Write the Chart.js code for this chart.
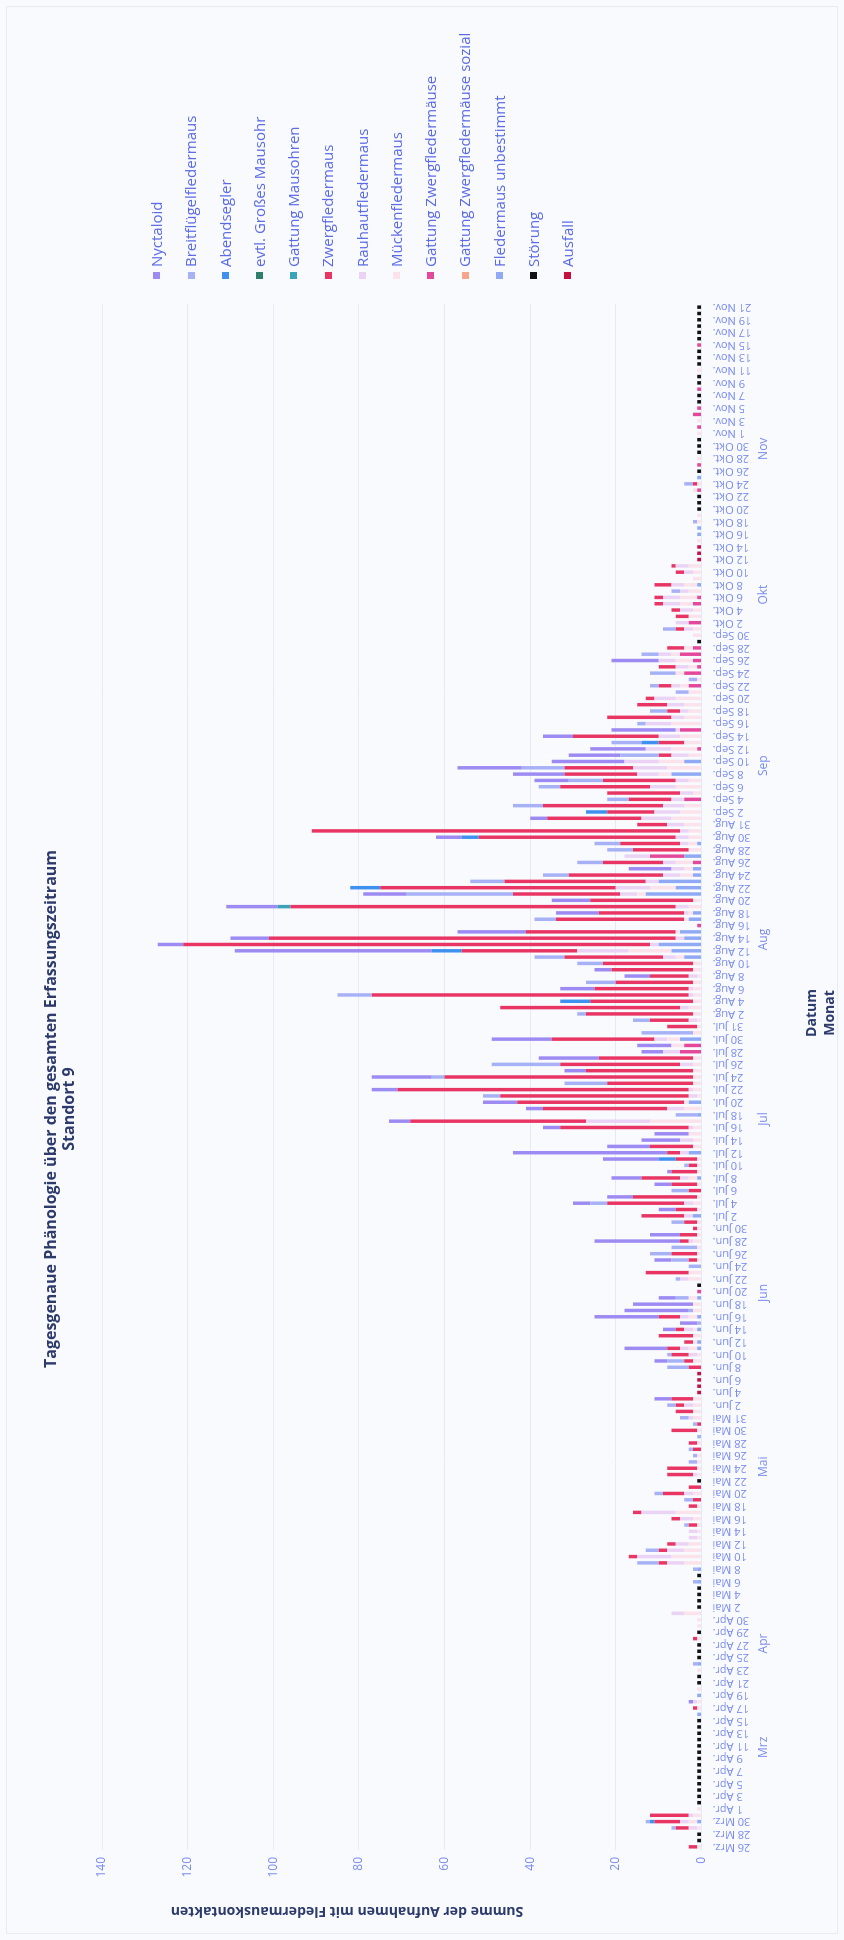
<!DOCTYPE html>
<html lang="de">
<head>
<meta charset="UTF-8">
<title>Tagesgenaue Phänologie – Standort 9</title>
<script src="https://cdn.jsdelivr.net/npm/chart.js"></script>
<style>
  html, body { margin: 0; padding: 0; background: #f8fafe; }
  body { width: 844px; height: 1940px; overflow: hidden; position: relative; font-family: "Open Sans", sans-serif; }
  /* die Grafik wird quer aufgebaut und dann um 90 Grad nach links gedreht */
  #figur { position: absolute; left: 0; top: 0; width: 1940px; height: 844px;
           transform-origin: 0 0; transform: translateY(1940px) rotate(-90deg); }
  #rahmen { position: absolute; left: 6px; top: 6px; right: 6px; bottom: 6px; border: 1px solid #e6ebf6; }
  #diagramm { position: absolute; left: 0; top: 0; }
  .titel { position: absolute; left: 431px; width: 800px; top: 41px; text-align: center;
           font-weight: 700; font-size: 16px; line-height: 18px; color: #2c3a6c; }
  .achsentitel { position: absolute; font-weight: 700; font-size: 14px; color: #2c3a6c;
                 text-align: center; white-space: nowrap; }
  #ytitel { left: -172px; top: 337px; width: 400px; height: 20px; line-height: 20px; transform: rotate(-90deg); }
  #xtitel { left: 827px; top: 802px; width: 200px; line-height: 18px; }
  #legende { position: absolute; left: 1661px; top: 0; }
  .eintrag { position: absolute; left: 0; height: 20px; line-height: 20px; white-space: nowrap;
             font-size: 15px; color: #5b6be6; }
  .eintrag span { display: inline-block; width: 7px; height: 7px; margin-right: 5px; vertical-align: middle; position: relative; top: -1px; }
</style>
</head>
<body>
<div id="figur">
  <div id="rahmen"></div>
  <canvas id="diagramm" width="1940" height="844"></canvas>
  <div class="titel">Tagesgenaue Phänologie über den gesamten Erfassungszeitraum<br>Standort 9</div>
  <div class="achsentitel" id="ytitel">Summe der Aufnahmen mit Fledermauskontakten</div>
  <div class="achsentitel" id="xtitel">Datum<br>Monat</div>
  <div id="legende"></div>
</div>

<script>
  // Monate und die beschrifteten Tage je Monat (dazwischen liegt jeweils ein unbeschrifteter Tag)
  const monate = ['Mrz', 'Apr', 'Mai', 'Jun', 'Jul', 'Aug', 'Sep', 'Okt', 'Nov'];
  const kuerzel = ['Mrz.', 'Apr.', 'Mai', 'Jun.', 'Jul.', 'Aug.', 'Sep.', 'Okt.', 'Nov.'];
  const tageMitEtikett = [
    [26, 28, 30],
    [1, 3, 5, 7, 9, 11, 13, 15, 17, 19, 21, 23, 25, 27, 29, 30],
    [2, 4, 6, 8, 10, 12, 14, 16, 18, 20, 22, 24, 26, 28, 30, 31],
    [2, 4, 6, 8, 10, 12, 14, 16, 18, 20, 22, 24, 26, 28, 30],
    [2, 4, 6, 8, 10, 12, 14, 16, 18, 20, 22, 24, 26, 28, 30, 31],
    [2, 4, 6, 8, 10, 12, 14, 16, 18, 20, 22, 24, 26, 28, 30, 31],
    [2, 4, 6, 8, 10, 12, 14, 16, 18, 20, 22, 24, 26, 28, 30],
    [2, 4, 6, 8, 10, 12, 14, 16, 18, 20, 22, 24, 26, 28, 30],
    [1, 3, 5, 7, 9, 11, 13, 15, 17, 19, 21]
  ];

  const artNamen = ['Nyctaloid', 'Breitflügelfledermaus', 'Abendsegler', 'evtl. Großes Mausohr',
    'Gattung Mausohren', 'Zwergfledermaus', 'Rauhautfledermaus', 'Mückenfledermaus',
    'Gattung Zwergfledermäuse', 'Gattung Zwergfledermäuse sozial', 'Fledermaus unbestimmt',
    'Störung', 'Ausfall'];
  const artFarben = ['#9d8af2', '#a7b1f6', '#3f91f0', '#2f7f6f', '#3ba3b8', '#e83564', '#ead3f4',
    '#fce2ea', '#e4489a', '#f7a58a', '#8fa9f4', '#111111', '#c8103e'];

  // Aufnahmen pro Tag, je Zeile 20 Tage: ab 26 Mrz, 15 Apr, 4 Mai, 24 Mai, 12 Jun, 2 Jul,
  // 22 Jul, 10 Aug, 30 Aug, 18 Sep, 8 Okt, 28 Okt, 17 Nov
  const nyctaloid = [
    0,0,0,0,0,0,0,0,0,0, 0,0,0,0,0,0,0,0,0,0,
    0,0,0,1,0,0,0,0,0,0, 0,0,0,0,0,0,0,0,0,0,
    0,0,0,0,0,0,0,0,0,0, 0,0,0,0,0,0,0,0,0,0,
    0,0,0,0,0,0,0,0,0,0, 0,4,0,0,0,0,0,3,0,10,
    0,0,3,4,15,15,14,4,0,0, 0,0,0,4,0,0,20,7,0,0,
    0,4,4,6,0,4,7,1,0,13, 36,10,9,8,4,5,0,4,8,0,
    6,0,14,5,0,14,5,8,14,0, 0,0,0,0,0,0,8,0,6,4,
    0,0,46,6,9,16,0,0,10,12, 9,10,0,0,0,10,0,0,0,0,
    6,0,0,4,0,0,0,0,0,8, 12,15,17,12,13,0,7,15,0,0,
    0,0,0,0,0,0,0,0,11,0, 0,0,0,0,0,0,0,0,0,0,
    0,0,0,0,0,0,0,0,0,0, 0,0,0,0,0,0,0,0,0,0,
    0,0,0,0,0,0,0,0,0,0, 0,0,0,0,0,0,0,0,0,0,
    0,0,0,0,0
  ];
  const breitfluegel = [
    0,0,0,1,1,0,0,0,0,0, 0,0,0,0,0,0,0,0,0,0,
    0,0,0,0,0,0,0,0,0,1, 0,0,0,0,0,0,0,0,0,0,
    0,0,1,0,1,5,0,3,0,0, 0,1,0,0,0,2,2,0,0,0,
    0,2,1,1,0,1,0,1,2,0, 2,0,0,0,0,0,5,4,1,0,
    0,0,0,1,0,1,0,3,0,0, 1,0,3,4,5,6,0,0,0,3,
    0,0,4,0,4,0,0,0,1,0, 0,0,0,0,0,0,5,0,0,4,
    0,10,3,0,16,0,0,0,0,12, 0,4,2,0,0,8,0,7,0,0,
    6,7,0,0,0,0,0,5,0,0, 0,25,0,8,6,0,6,0,6,6,
    0,0,0,0,0,7,5,0,5,8, 0,10,0,9,0,7,0,0,2,0,
    4,0,0,3,2,2,6,0,0,4, 0,0,0,3,0,0,0,0,0,2,
    0,0,0,0,0,0,0,0,0,0, 1,0,0,0,0,0,2,0,0,0,
    0,0,0,0,0,0,0,0,0,0, 0,0,0,0,0,0,0,0,0,0,
    0,0,0,0,0
  ];
  const abendsegler = [
    0,0,0,0,1,0,0,0,0,0, 0,0,0,0,0,0,0,0,0,0,
    0,0,0,0,0,0,0,0,0,0, 0,0,0,0,0,0,0,0,0,0,
    0,0,0,0,0,0,0,0,0,0, 0,0,0,0,0,0,0,0,0,0,
    0,0,0,0,0,0,0,0,0,0, 0,0,0,0,0,0,0,0,0,0,
    0,0,0,0,0,0,0,0,0,0, 0,0,0,0,0,0,0,0,0,0,
    0,0,0,0,0,0,0,0,0,4, 0,0,0,0,0,0,0,0,0,0,
    0,0,0,0,0,0,0,0,0,0, 0,0,0,0,7,0,0,0,0,0,
    0,0,7,0,0,0,0,0,0,0, 0,0,7,0,0,0,0,0,0,0,
    4,0,0,0,5,0,0,0,0,0, 0,0,0,0,0,4,0,0,0,0,
    0,0,0,0,0,0,0,0,0,0, 0,0,0,0,0,0,0,0,0,0,
    0,0,0,0,0,0,0,0,0,0, 0,0,0,0,0,0,0,0,0,0,
    0,0,0,0,0,0,0,0,0,0, 0,0,0,0,0,0,0,0,0,0,
    0,0,0,0,0
  ];
  const grossesMausohr = [
    0,0,0,0,0,0,0,0,0,0, 0,0,0,0,0,0,0,0,0,0,
    0,0,0,0,0,0,0,0,0,0, 0,0,0,0,0,0,0,0,0,0,
    0,0,0,0,0,0,0,0,0,0, 0,0,0,0,0,0,0,0,0,0,
    0,0,0,0,0,0,0,0,0,0, 0,0,0,0,0,0,0,0,0,0,
    0,0,0,0,0,0,0,0,0,0, 0,0,0,0,0,0,0,0,0,0,
    0,0,0,0,0,0,0,0,0,0, 0,0,0,0,0,0,0,0,0,0,
    0,0,0,0,0,0,0,0,0,0, 0,0,0,0,0,0,0,0,0,0,
    0,0,0,0,0,0,0,0,0,0, 0,0,0,0,0,0,0,0,0,0,
    0,0,0,0,0,0,0,0,0,0, 0,0,0,0,0,0,0,0,0,0,
    0,0,0,0,0,0,0,0,0,0, 0,0,0,0,0,0,0,0,0,0,
    0,0,0,0,0,0,0,0,0,0, 0,0,0,0,0,0,0,0,0,0,
    0,0,0,0,0,0,0,0,0,0, 0,0,0,0,0,0,0,0,0,0,
    0,0,0,0,0
  ];
  const mausohren = [
    0,0,0,0,0,0,0,0,0,0, 0,0,0,0,0,0,0,0,0,0,
    0,0,0,0,0,0,0,0,0,0, 0,0,0,0,0,0,0,0,0,0,
    0,0,0,0,0,0,0,0,0,0, 0,0,0,0,0,0,0,0,0,0,
    0,0,0,0,0,0,0,0,0,0, 0,0,0,0,0,0,0,0,0,0,
    0,0,0,0,0,0,0,0,0,0, 0,0,0,0,0,0,0,0,0,0,
    0,0,0,0,0,0,0,0,0,0, 0,0,0,0,0,0,0,0,0,0,
    0,0,0,0,0,0,0,0,0,0, 0,0,0,0,0,0,0,0,0,0,
    0,0,0,0,0,0,0,0,0,3, 0,0,0,0,0,0,0,0,0,0,
    0,0,0,0,0,0,0,0,0,0, 0,0,0,0,0,0,0,0,0,0,
    0,0,0,0,0,0,0,0,0,0, 0,0,0,0,0,0,0,0,0,0,
    0,0,0,0,0,0,0,0,0,0, 0,0,0,0,0,0,0,0,0,0,
    0,0,0,0,0,0,0,0,0,0, 0,0,0,0,0,0,0,0,0,0,
    0,0,0,0,0
  ];
  const zwerg = [
    2,0,0,3,6,9,0,0,0,0, 0,0,0,0,0,0,0,0,0,0,
    0,0,1,0,0,0,0,0,0,0, 0,0,0,1,0,0,0,0,0,0,
    0,0,0,0,0,2,2,2,2,0, 0,2,2,2,2,2,5,3,0,6,
    7,0,0,2,2,0,6,1,0,4, 2,5,0,0,0,0,3,2,4,3,
    2,8,2,0,5,0,0,0,0,0, 0,10,0,2,6,0,2,4,1,3,
    10,5,18,15,3,6,9,6,2,5, 3,10,0,0,30,41,0,29,39,44,
    68,20,58,25,28,22,0,0,24,0, 7,9,25,42,24,74,22,18,9,19,
    21,23,27,109,95,35,0,30,20,90, 24,25,55,33,22,0,14,0,13,14,
    46,86,7,22,11,28,10,17,21,17, 17,16,0,3,0,6,20,0,0,15,
    3,7,2,0,3,0,0,4,0,0, 4,0,0,2,0,3,2,2,2,0,
    4,0,2,1,0,0,0,0,0,0, 0,0,0,0,0,0,1,0,0,0,
    0,0,0,0,0,0,0,0,0,0, 0,0,0,0,0,0,0,0,0,0,
    0,0,0,0,0
  ];
  const rauhaut = [
    0,0,0,2,2,1,0,0,0,0, 0,0,0,0,0,0,0,0,0,0,
    0,0,0,1,0,0,0,0,0,0, 0,0,0,0,0,0,0,3,0,0,
    0,0,0,0,0,4,8,4,3,2, 2,0,3,8,0,0,2,0,0,1,
    0,0,0,0,0,0,0,0,1,0, 2,0,0,0,0,0,0,0,2,2,
    0,0,2,0,2,0,0,0,0,0, 2,0,0,0,0,0,1,0,0,0,
    2,0,2,0,0,0,2,0,0,0, 2,0,3,0,1,15,0,4,0,2,
    1,0,0,0,3,0,4,0,3,0, 0,2,0,2,0,1,1,0,2,0,
    0,3,12,2,2,0,0,0,1,3, 0,4,8,3,4,3,3,6,0,2,
    3,2,4,7,6,5,3,3,6,3, 5,8,8,4,6,0,5,1,6,3,
    2,4,5,0,2,0,0,3,4,3, 0,0,0,2,3,0,3,4,4,2,
    3,0,2,3,0,0,0,0,0,0, 0,0,0,0,0,0,0,0,0,0,
    0,0,0,0,0,0,0,0,0,0, 0,0,0,0,0,0,0,0,0,0,
    0,0,0,0,0
  ];
  const muecken = [
    1,0,0,1,2,2,1,0,0,0, 0,0,0,0,0,0,0,0,0,0,
    0,0,1,1,0,1,0,0,1,0, 0,0,0,1,0,1,1,4,0,0,
    0,0,0,0,0,4,7,4,3,1, 1,1,2,6,1,0,2,0,0,1,
    1,1,1,0,1,0,1,0,2,2, 2,2,0,0,0,0,0,2,1,2,
    1,2,1,0,2,2,2,2,0,0, 3,3,0,1,1,1,2,1,1,1,
    0,1,2,1,0,1,2,1,1,1, 0,2,2,3,2,12,0,4,1,1,
    2,2,2,2,2,2,0,3,3,2, 1,1,2,3,2,2,2,2,1,2,
    2,2,10,0,0,1,0,1,1,3, 2,2,6,0,3,2,4,0,3,2,
    3,3,4,7,5,4,0,2,6,3, 3,8,6,3,6,4,5,0,7,4,
    3,4,6,3,2,1,2,2,4,2, 2,0,2,2,0,3,2,3,4,3,
    3,2,2,3,0,0,0,1,0,0, 1,1,0,0,0,1,1,0,0,0,
    1,0,0,0,1,0,1,0,0,0, 0,0,0,0,1,0,0,0,0,0,
    0,0,0,0,0
  ];
  const gattungZwerg = [
    0,0,0,0,0,0,0,0,0,0, 0,0,0,0,0,0,0,0,0,0,
    0,0,0,0,0,0,0,0,0,0, 0,0,0,0,0,0,0,0,0,0,
    0,0,0,0,0,0,0,0,0,0, 0,0,0,0,0,0,0,0,0,0,
    0,0,0,0,0,0,0,0,0,0, 0,0,0,0,0,0,0,0,0,0,
    0,0,0,0,0,0,0,0,1,0, 0,0,0,0,0,0,0,0,0,0,
    0,0,0,0,0,0,0,0,0,0, 0,0,0,0,0,0,0,0,0,0,
    0,0,0,0,0,0,5,4,0,0, 0,0,0,0,0,0,0,0,0,0,
    0,0,0,0,0,0,1,0,0,0, 0,0,0,0,0,0,2,8,0,0,
    0,0,0,0,0,0,4,0,0,0, 0,0,0,0,1,0,0,5,0,0,
    0,0,0,0,3,0,4,1,2,5, 2,0,0,0,3,0,0,2,1,0,
    0,0,0,0,0,0,0,0,0,0, 0,0,0,0,0,1,0,0,0,1,
    0,0,0,0,0,1,0,2,1,0, 0,1,0,0,0,0,0,0,1,0,
    0,0,0,0,0
  ];
  const gattungZwergSozial = [
    0,0,0,0,0,0,0,0,0,0, 0,0,0,0,0,0,0,0,0,0,
    0,0,0,0,0,0,0,0,0,0, 0,0,0,0,0,0,0,0,0,0,
    0,0,0,0,0,0,0,0,0,0, 0,0,0,0,0,0,0,0,0,0,
    0,0,0,0,0,0,0,0,0,0, 0,0,0,0,0,0,0,0,0,0,
    0,0,0,0,0,0,0,0,0,0, 0,0,0,0,0,0,0,0,0,0,
    0,0,0,0,0,0,0,0,0,0, 0,0,0,0,0,0,0,0,0,0,
    0,0,0,0,0,0,0,0,0,0, 0,0,0,0,0,0,0,0,0,0,
    0,0,0,0,0,0,0,0,0,0, 0,0,0,0,0,0,0,0,0,0,
    0,0,0,0,0,0,0,0,0,0, 0,0,0,0,0,0,0,0,0,0,
    0,0,0,0,0,0,0,0,0,0, 0,0,0,0,0,0,0,0,0,0,
    0,0,0,0,0,0,0,0,0,0, 0,0,0,0,0,0,0,0,0,0,
    0,0,0,0,0,0,0,0,0,0, 0,0,0,0,0,0,0,0,0,0,
    0,0,0,0,0
  ];
  const unbestimmt = [
    0,0,0,0,1,0,0,0,0,0, 0,0,0,0,0,0,0,0,0,0,
    0,1,0,0,1,0,0,0,0,1, 0,0,0,0,0,0,0,0,0,0,
    0,0,1,0,1,0,0,0,0,0, 0,0,0,0,0,0,0,0,0,0,
    0,0,0,0,0,0,0,0,0,0, 0,0,0,0,0,0,0,0,0,1,
    1,0,1,0,1,0,0,1,0,0, 0,0,0,0,0,0,0,0,0,0,
    2,0,0,0,0,0,1,0,0,0, 3,0,0,0,0,0,1,0,3,0,
    0,0,0,0,0,0,0,0,5,0, 0,0,0,0,0,0,0,0,0,0,
    0,4,7,10,4,5,0,3,2,0, 0,13,6,10,2,2,0,4,0,1,
    0,0,0,0,0,0,0,0,0,0, 7,0,4,0,0,0,0,0,0,0,
    0,0,0,0,0,0,0,0,0,0, 0,0,0,0,0,0,0,0,0,0,
    1,0,0,0,0,0,0,0,1,1, 0,0,0,0,0,0,0,1,0,0,
    0,0,0,0,0,0,0,0,0,0, 0,0,0,0,0,0,0,0,0,0,
    0,0,0,0,0
  ];
  const stoerung = [
    0,1,1,0,0,0,0,1,1,1, 1,1,1,1,1,1,1,1,1,1,
    1,0,0,0,0,0,1,1,0,0, 1,1,1,0,1,0,0,0,1,1,
    1,1,0,1,0,0,0,0,0,0, 0,0,0,0,0,0,0,0,1,0,
    0,0,0,0,0,0,0,0,0,0, 0,0,0,0,0,0,0,0,0,0,
    0,0,0,0,0,0,0,0,0,1, 0,0,0,0,0,0,0,0,0,0,
    0,0,0,0,0,0,0,0,0,0, 0,0,0,0,0,0,0,0,0,0,
    0,0,0,0,0,0,0,0,0,0, 0,0,0,0,0,0,0,0,0,0,
    0,0,0,0,0,0,0,0,0,0, 0,0,0,0,0,0,0,0,0,0,
    0,0,0,0,0,0,0,0,0,0, 0,0,0,0,0,0,0,0,0,0,
    0,0,0,0,0,0,0,0,0,0, 0,1,0,0,0,0,0,0,0,0,
    0,0,0,0,0,0,0,0,0,0, 0,0,1,1,1,0,0,0,1,0,
    0,1,1,1,0,0,0,0,0,1, 1,0,1,1,0,1,1,1,0,1,
    1,1,1,1,1
  ];
  const ausfall = [
    0,0,0,0,0,0,0,0,0,0, 0,0,0,0,0,0,0,0,0,0,
    0,0,0,0,0,0,0,0,0,0, 0,0,0,0,0,0,0,0,0,0,
    0,0,0,0,0,0,0,0,0,0, 0,0,0,0,0,0,0,0,0,0,
    0,0,0,0,0,0,0,0,0,0, 0,0,1,1,1,1,0,0,0,0,
    0,0,0,0,0,0,0,0,0,0, 0,0,0,0,0,0,0,0,0,0,
    0,0,0,0,0,0,0,0,0,0, 0,0,0,0,0,0,0,0,0,0,
    0,0,0,0,0,0,0,0,0,0, 0,0,0,0,0,0,0,0,0,0,
    0,0,0,0,0,0,0,0,0,0, 0,0,0,0,0,0,0,0,0,0,
    0,0,0,0,0,0,0,0,0,0, 0,0,0,0,0,0,0,0,0,0,
    0,0,0,0,0,0,0,0,0,0, 0,0,0,0,0,0,0,0,0,0,
    0,0,0,0,1,1,1,0,0,0, 0,0,0,0,0,0,0,0,0,0,
    0,0,0,0,0,0,0,0,0,0, 0,0,0,0,0,0,0,0,0,0,
    0,0,0,0,0
  ];

  const werte = [nyctaloid, breitfluegel, abendsegler, grossesMausohr, mausohren, zwerg, rauhaut,
    muecken, gattungZwerg, gattungZwergSozial, unbestimmt, stoerung, ausfall];
  const yTicks = [0, 20, 40, 60, 80, 100, 120, 140];

  // Tagesetiketten und Monatsgruppen aufbauen
  const etiketten = [];
  const ersteStelle = [];
  const letzteStelle = [];
  tageMitEtikett.forEach((tage, m) => {
    tage.forEach((tag, j) => {
      if (etiketten.length) etiketten.push('');
      if (j === 0) ersteStelle.push(etiketten.length);
      etiketten.push(tag + ' ' + kuerzel[m]);
    });
    letzteStelle.push(etiketten.length - 1);
  });
  // ein unbeschrifteter Tag vor dem 2. gehört schon zum neuen Monat
  const gruppenStart = ersteStelle.map((s, m) => (m > 0 && tageMitEtikett[m][0] === 2) ? s - 1 : s);
  const monatsMitte = gruppenStart.map((s, m) => {
    const ende = m < monate.length - 1 ? gruppenStart[m + 1] - 1 : letzteStelle[m];
    return (s + ende) / 2;
  });

  // Legende
  const legende = document.getElementById('legende');
  artNamen.forEach((name, k) => {
    const el = document.createElement('div');
    el.className = 'eintrag';
    el.style.top = (146 + 34.25 * k) + 'px';
    el.innerHTML = '<span style="background:' + artFarben[k] + '"></span>' + name;
    legende.appendChild(el);
  });

  // gestapelt von unten: Ausfall zuerst, Nyctaloid oben
  const datasets = artNamen.map((name, k) => ({
    label: name,
    data: werte[k],
    backgroundColor: artFarben[k],
    borderWidth: 0,
    barPercentage: 0.55,
    categoryPercentage: 1
  })).reverse();

  const tickFarbe = '#7a8cf0';
  Chart.defaults.font.family = "'Open Sans', sans-serif";

  new Chart(document.getElementById('diagramm'), {
    type: 'bar',
    data: { labels: etiketten, datasets },
    options: {
      responsive: false,
      animation: false,
      devicePixelRatio: 1,
      layout: { padding: { left: 20, right: 304, top: 102, bottom: 0 } },
      plugins: { legend: { display: false }, tooltip: { enabled: false } },
      scales: {
        x: {
          stacked: true,
          offset: true,
          grid: { display: false, drawTicks: false },
          border: { display: false },
          ticks: { autoSkip: false, minRotation: 90, maxRotation: 90, padding: 11,
                   color: tickFarbe, font: { size: 11 } },
          afterFit: (s) => { s.height = 54; }
        },
        monat: {
          type: 'linear',
          position: 'bottom',
          min: -0.5,
          max: etiketten.length - 0.5,
          grid: { display: false, drawTicks: false },
          border: { display: false },
          afterBuildTicks: (s) => { s.ticks = monatsMitte.map(v => ({ value: v })); },
          ticks: { autoSkip: false, maxRotation: 0, padding: 1, color: tickFarbe,
                   font: { size: 12 }, callback: (v, i) => monate[i] },
          afterFit: (s) => { s.height = 88.5; }
        },
        y: {
          stacked: true,
          min: 0,
          max: 140,
          grid: { color: '#e4eaf7', drawTicks: false },
          border: { display: false },
          afterBuildTicks: (s) => { s.ticks = yTicks.map(v => ({ value: v })); },
          ticks: { padding: 7, color: tickFarbe, font: { size: 12 } },
          afterFit: (s) => { s.width = 70; }
        }
      }
    }
  });
</script>
</body>
</html>
